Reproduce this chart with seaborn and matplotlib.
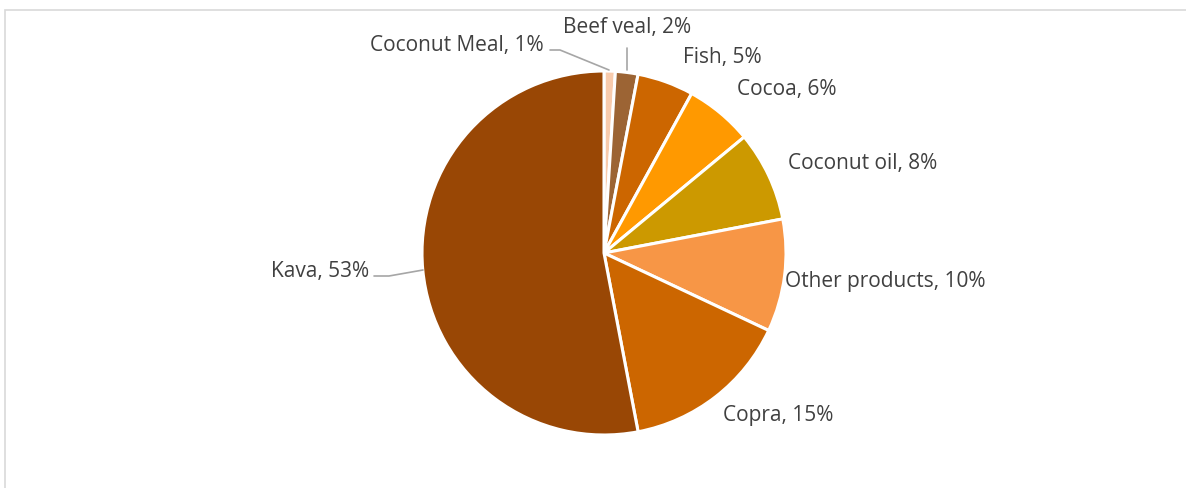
import numpy as np
import matplotlib.pyplot as plt
import seaborn as sns
from matplotlib.patches import Rectangle

sns.set_theme(style="white")
plt.rcParams['font.family'] = ['Open Sans', 'DejaVu Sans']

# clockwise from 12 o'clock
products = ['Coconut Meal', 'Beef veal', 'Fish', 'Cocoa', 'Coconut oil',
            'Other products', 'Copra', 'Kava']
shares = [1, 2, 5, 6, 8, 10, 15, 53]
colours = ['#F8CBAD', '#9C6434', '#CC6600', '#FF9900', '#CC9900',
           '#F79646', '#CC6600', '#994705']

W, H = 1186, 488
CX, CY, R = 604, H - 253, 182
TEXT = '#404040'
LEADER = '#A6A6A6'

# label anchor (pixel x, pixel y from top, horizontal alignment)
label_pos = {
    'Coconut Meal': (544, 45, 'right'),
    'Beef veal': (627, 28, 'center'),
    'Fish': (683, 58, 'left'),
    'Cocoa': (737, 90, 'left'),
    'Coconut oil': (788, 163, 'left'),
    'Other products': (785, 281, 'left'),
    'Copra': (723, 415, 'left'),
    'Kava': (369, 271, 'right'),
}
# leader lines in pixel coords (from top)
leaders = {
    'Coconut Meal': [(550, 50), (560, 50), (609, 70)],
    'Beef veal': [(627, 48), (627, 70)],
    'Kava': [(374, 276), (389, 276), (423, 270)],
}

fig = plt.figure(figsize=(W / 100, H / 100), dpi=100)
ax = fig.add_axes([0, 0, 1, 1])
ax.pie(shares, colors=colours, startangle=90, counterclock=False,
       center=(CX, CY), radius=R,
       wedgeprops={'edgecolor': 'white', 'linewidth': 2.2})
ax.set_xlim(0, W)
ax.set_ylim(0, H)
ax.set_aspect('equal')
ax.axis('off')

# chart frame (runs off the right and bottom edge)
ax.add_patch(Rectangle((5, -20), W + 20, H - 10 + 20, fill=False,
                       edgecolor='#D9D9D9', linewidth=1.2))

for name, pct in zip(products, shares):
    x, y, ha = label_pos[name]
    ax.text(x, H - y, f'{name}, {pct}%', ha=ha, va='center',
            fontsize=15, color=TEXT)

for pts in leaders.values():
    xs = [p[0] for p in pts]
    ys = [H - p[1] for p in pts]
    ax.plot(xs, ys, color=LEADER, linewidth=1.2)

fig.savefig('out.png', dpi=100)
